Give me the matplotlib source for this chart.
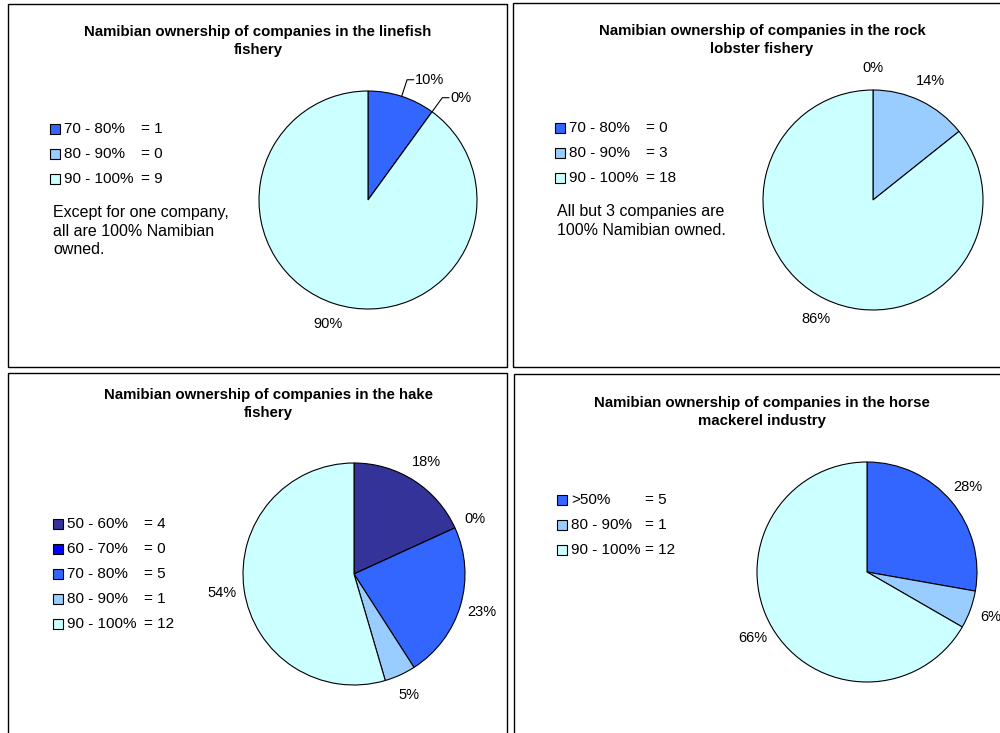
import numpy as np
import matplotlib.pyplot as plt
from matplotlib.patches import Rectangle

plt.rcParams['font.family'] = ['Liberation Sans', 'DejaVu Sans']

W, H = 1000, 733

# Excel band colours
band_colors = {'>50%': '#3366FF', '50 - 60%': '#333399', '60 - 70%': '#0000FF',
               '70 - 80%': '#3366FF', '80 - 90%': '#99CCFF', '90 - 100%': '#CCFFFF'}

# Data
linefish_bands = ['70 - 80%', '80 - 90%', '90 - 100%']
linefish_counts = [1, 0, 9]
linefish_pct = ['10%', '0%', '90%']

lobster_bands = ['70 - 80%', '80 - 90%', '90 - 100%']
lobster_counts = [0, 3, 18]
lobster_pct = ['0%', '14%', '86%']

hake_bands = ['50 - 60%', '60 - 70%', '70 - 80%', '80 - 90%', '90 - 100%']
hake_counts = [4, 0, 5, 1, 12]
hake_pct = ['18%', '0%', '23%', '5%', '54%']

horse_bands = ['>50%', '80 - 90%', '90 - 100%']
horse_counts = [5, 1, 12]
horse_pct = ['28%', '6%', '66%']


def fx(x):
    return x / W


def fy(y):
    return 1 - y / H


fig = plt.figure(figsize=(10, 7.33), dpi=100)


def panel(box, title, title_xy, center, r, bands, counts, pcts,
          leg_xy, eq_x, note=None, note_xy=None, leaders=False):
    x0, y0, x1, y1 = box
    fig.patches.append(Rectangle((fx(x0), fy(y1)), fx(x1 - x0), (y1 - y0) / H,
                                 transform=fig.transFigure, fill=False,
                                 edgecolor='black', linewidth=1.0))
    fig.text(fx(title_xy[0]), fy(title_xy[1]), title, ha='center', va='top',
             fontsize=10.8, fontweight='bold', linespacing=1.4)

    cx, cy = center
    ax = fig.add_axes([fx(cx - r), fy(cy + r), 2 * r / W, 2 * r / H])
    cols = [band_colors[b] for b in bands]
    wedges, _ = ax.pie(counts, colors=cols, startangle=90, counterclock=False,
                       radius=1.0, wedgeprops=dict(edgecolor='black', linewidth=0.8))
    ax.set_xlim(-1, 1)
    ax.set_ylim(-1, 1)
    ax.set_aspect('auto')
    ax.axis('off')

    for w, lab in zip(wedges, pcts):
        ang = np.deg2rad((w.theta1 + w.theta2) / 2)
        if leaders and np.cos(ang) > 0:
            ex, ey = np.cos(ang), np.sin(ang)
            kx, ky = 1.16 * ex, 1.16 * ey
            ax.plot([ex, kx, kx + 0.06], [ey, ky, ky], color='black',
                    linewidth=0.8, clip_on=False)
            ax.text(kx + 0.07, ky, lab, ha='left', va='center', fontsize=10.5)
        else:
            ax.text(1.2 * np.cos(ang), 1.2 * np.sin(ang), lab,
                    ha='center', va='center', fontsize=10.5)

    # legend, Excel style
    lx, ly = leg_xy
    for i, (b, c) in enumerate(zip(bands, counts)):
        yy = ly + 25 * i
        fig.patches.append(Rectangle((fx(lx), fy(yy + 5)), 10 / W, 10 / H,
                                     transform=fig.transFigure,
                                     facecolor=band_colors[b], edgecolor='black',
                                     linewidth=0.8))
        fig.text(fx(lx + 14), fy(yy), b, ha='left', va='center', fontsize=11)
        fig.text(fx(eq_x), fy(yy), '= %d' % c, ha='left', va='center', fontsize=11)

    if note:
        fig.text(fx(note_xy[0]), fy(note_xy[1]), note, ha='left', va='top',
                 fontsize=11.5, linespacing=1.3)


panel((8, 4, 507, 367), 'Namibian ownership of companies in the linefish\nfishery',
      (258, 25), (368, 200), 109, linefish_bands, linefish_counts, linefish_pct,
      (50, 129), 141,
      note='Except for one company,\nall are 100% Namibian\nowned.', note_xy=(53, 205),
      leaders=True)

panel((513, 3, 1006, 367), 'Namibian ownership of companies in the rock\nlobster fishery',
      (762, 24), (873, 200), 110, lobster_bands, lobster_counts, lobster_pct,
      (555, 128), 646,
      note='All but 3 companies are\n100% Namibian owned.', note_xy=(557, 204))

panel((8, 373, 507, 740), 'Namibian ownership of companies in the hake\nfishery',
      (268, 388), (354, 574), 111, hake_bands, hake_counts, hake_pct,
      (53, 524), 144)

panel((514, 374, 1006, 740), 'Namibian ownership of companies in the horse\nmackerel industry',
      (762, 396), (867, 572), 110, horse_bands, horse_counts, horse_pct,
      (557, 500), 645)

fig.savefig('out.png', dpi=100)
